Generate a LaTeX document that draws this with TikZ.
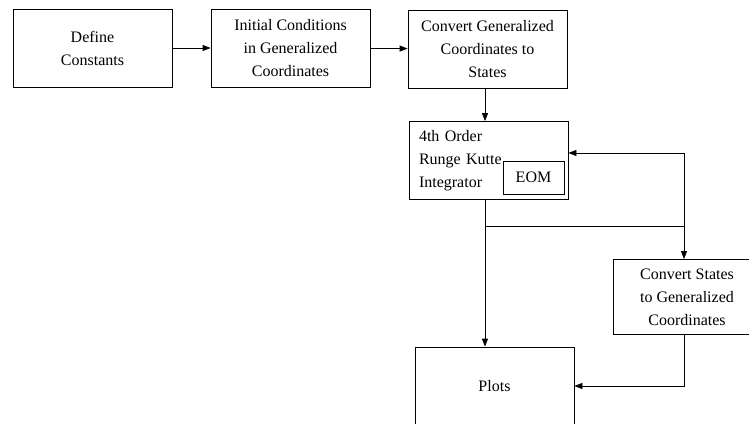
\documentclass[tikz,border=0pt]{standalone}
\usepackage{fontspec}
\setmainfont{Liberation Serif}
\usetikzlibrary{arrows.meta}

\tikzset{
  block/.style={draw, rectangle, line width=0.6pt, align=center, inner sep=0pt,
    minimum width=119.25pt, minimum height=58.5pt,
    font=\fontsize{12}{17.25}\selectfont},
  flow/.style={line width=0.6pt, -{Triangle[length=6pt,width=4.5pt]}}
}

\begin{document}
\begin{tikzpicture}[x=0.75pt, y=-0.75pt]
	\clip (0,0) rectangle (749,424);
	% blocks
	\node[block] (const)at(92.5, 48) {Define\\Constants};
	\node[block] (init)at(290.5, 48) {Initial Conditions\\in Generalized\\Coordinates};
	\node[block] (gc2s)at(487.5, 49) {Convert Generalized\\Coordinates to\\States};
	\node[block, align=left, text width=104.25pt, inner xsep=7.5pt] (rk4)at(488.5, 160.5) {4th Order\\Runge Kutte\\Integrator};
	\node[block, minimum width=45.75pt, minimum height=24.75pt] (eom)at(533.5, 177.5) {EOM};
	\node[block, minimum width=111pt, minimum height=56.25pt] (s2gc)at(687, 297) {Convert States\\to Generalized\\Coordinates};
	\node[block] (plots)at(494.5, 386) {Plots};
	\coordinate (split)at(485, 226);
	\coordinate (loop)at(684, 153);
	% connectors
	\draw[flow] (const) -- (init);
	\draw[flow] (init) -- (gc2s);
	\draw[flow] (gc2s.south -| split) -- (rk4.north -| split);
	\draw[flow] (rk4.south -| split) -- (plots.north -| split);
	\draw[flow] (split) -| (s2gc.north -| loop);
	\draw[flow] (split -| loop) |- (rk4.east |- loop);
	\draw[flow] (s2gc.south -| loop) |- (plots.east);
\end{tikzpicture}
\end{document}
